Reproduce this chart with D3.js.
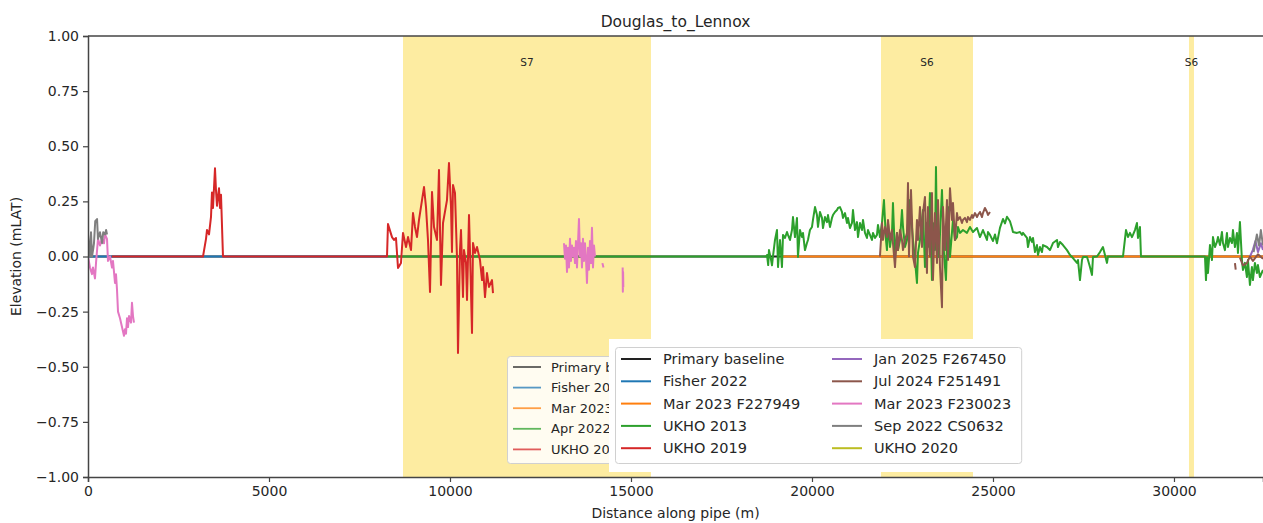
<!DOCTYPE html>
<html><head><meta charset="utf-8">
<script src="https://cdn.jsdelivr.net/npm/d3@7"></script>
<style>
body{margin:0;background:#fff;}
text{font-family:"DejaVu Sans",sans-serif;fill:#262626;}
</style></head>
<body>
<svg id="chart" width="1263" height="523"></svg>
<script>
// ---------------- data ----------------
const title = "Douglas_to_Lennox";
const xLabel = "Distance along pipe (m)";
const yLabel = "Elevation (mLAT)";
const xTicks = [0, 5000, 10000, 15000, 20000, 25000, 30000];
const yTicks = [1.00, 0.75, 0.50, 0.25, 0.00, -0.25, -0.50, -0.75, -1.00];
const xDomain = [0, 32459];
const yDomain = [-1, 1];

const sectionNames = ["S7", "S6", "S6"];
const sectionStarts = [8702, 21906, 30414];
const sectionEnds = [15552, 24448, 30552];

const seriesNames = ["Primary baseline", "Fisher 2022", "Mar 2023 F227949", "UKHO 2013", "UKHO 2019",
  "Jan 2025 F267450", "Jul 2024 F251491", "Mar 2023 F230023", "Sep 2022 CS0632", "UKHO 2020"];
const seriesColors = ["#222222", "#1f77b4", "#ff7f0e", "#2ca02c", "#d62728",
  "#9467bd", "#8c564b", "#e377c2", "#7f7f7f", "#bcbd22"];
const oldLegendNames = ["Primary baseline", "Fisher 2022", "Mar 2023", "Apr 2022", "UKHO 2019"];
const oldLegendColors = ["#222222", "#1f77b4", "#ff7f0e", "#2ca02c", "#d62728"];

const primaryBaseline = [[0, 0], [32459, 0]];
const fisher2022 = [[0, 0], [8280, 0]];
const mar2023F227949 = [[19200, 0], [32459, 0]];
const ukho2013 = [[8280,0],[18730,0],
[18757,0.007],[18790,-0.039],[18812,0.029],[18870,-0.016],[18895,-0.04],[18922,0.0],[18978,0.075],[19033,0.12],[19061,-0.048],[19116,0.075],[19171,-0.048],[19199,0.098],[19254,0.084],[19309,0.111],[19337,0.098],[19392,0.075],[19447,0.12],[19475,0.179],[19530,0.088],[19585,0.175],[19613,-0.002],[19668,0.12],[19723,0.088],[19751,0.107],[19806,0.029],[19861,0.061],[19889,0.075],[19944,0.12],[20000,0.134],[20027,0.166],[20083,0.224],[20138,0.188],[20166,0.134],[20221,0.202],[20276,0.175],[20304,0.129],[20359,0.179],[20414,0.156],[20442,0.188],[20497,0.134],[20552,0.175],[20580,0.188],[20635,0.202],[20690,0.211],[20718,0.22],[20773,0.224],[20828,0.202],[20856,0.175],[20911,0.197],[20967,0.152],[20994,0.175],[21049,0.129],[21105,0.152],[21132,0.211],[21188,0.12],[21243,0.156],[21271,0.088],[21326,0.152],[21381,0.12],[21409,0.166],[21464,0.107],[21519,0.084],[21547,0.12],[21602,0.098],[21657,0.075],[21685,0.107],[21740,0.084],[21795,0.098],[21823,0.143],[21878,0.088],[21933,0.152],
[21988,0.256],[22044,0.075],[22071,0.029],[22099,0.152],[22154,0.043],[22210,0.107],[22237,0.243],[22293,0.0],[22348,0.107],[22375,0.029],[22431,0.075],[22486,0.211],[22514,0.134],[22569,0.043],[22624,0.075],[22652,0.152],[22707,0.256],[22762,0.134],[22790,0.075],[22845,-0.016],[22900,-0.12],[22928,0.016],[22983,0.075],[23066,0.211],[23121,-0.048],[23176,0.152],[23204,0.043],[23259,0.288],[23314,-0.107],[23342,0.152],[23397,0.029],[23425,0.406],[23453,0.075],[23508,-0.002],[23591,0.302],[23646,0.016],[23701,-0.107],[23757,0.224],[23812,-0.002],[23895,0.166],[23950,0.075],[24005,0.088],[24033,0.134],[24088,0.107],[24171,0.12],[24281,0.107],[24364,0.134],[24447,0.111],
[24558,0.129],[24640,0.088],[24723,0.12],[24834,0.075],[24862,0.111],[24917,0.098],[25000,0.07],[25055,0.1],[25110,0.06],[25193,0.13],[25276,0.17],[25331,0.15],[25386,0.18],[25469,0.16],[25525,0.129],[25552,0.111],[25663,0.107],[25746,0.111],[25801,0.098],[25829,0.107],[25939,0.084],[25967,0.043],[26022,0.088],[26077,0.066],[26105,0.084],[26160,0.02],[26215,0.052],[26243,0.007],[26298,0.043],[26353,0.02],[26381,0.052],[26491,0.043],[26574,0.029],[26657,0.061],[26768,0.075],[26795,0.043],[26851,0.066],[26933,0.052],[27044,0.029],[27127,0.007],[27210,-0.007],[27320,-0.029],[27348,-0.016],[27403,-0.107],[27458,-0.016],[27486,-0.002],[27597,-0.002],[27624,-0.016],[27679,-0.048],[27735,-0.084],[27762,-0.002],[27873,0.0],[27956,0.02],[28038,0.043],[28094,0.007],[28149,-0.029],[28176,0.0],[28591,0.0],[28674,0.12],[28729,0.088],[28784,0.107],[28839,0.088],[28867,0.098],[28922,0.12],[28977,0.152],[29005,0.084],[29060,0.134],[29088,0.0],[30856,0.0],[30884,-0.107],[30911,-0.002],[30939,-0.075],[30994,0.052],[31049,-0.016],[31077,0.088],[31132,0.043],[31187,0.066],[31215,0.088],[31270,0.052],[31325,0.111],[31353,0.061],[31408,0.029],[31463,0.107],[31491,0.043],[31546,0.084],[31601,0.061],[31629,0.12],[31684,0.043],[31739,0.107],[31767,0.016],[31822,0.156],[31877,-0.016],[31905,-0.061],[31960,-0.029],[32015,-0.093],[32043,-0.016],[32098,-0.129],[32153,-0.048],[32181,-0.107],[32236,-0.029],[32291,-0.075],[32319,-0.039],[32374,-0.093],[32459,-0.061]];
const ukho2019 = [[660,0],[3177,0],[3260,0.08],[3287,0.12],[3343,0.1],[3398,0.18],[3425,0.29],[3453,0.22],[3508,0.40],[3536,0.3],[3563,0.23],[3619,0.31],[3646,0.22],[3674,0.28],[3729,0],[8260,0],
[8287,0.147],[8398,0.088],[8453,0.075],[8508,0.084],[8536,0.016],[8564,-0.052],[8646,-0.029],[8702,0.107],[8785,0.043],[8840,0.088],[8923,0.029],[8978,0.197],[9033,0.134],[9088,0.088],[9144,0.166],[9227,0.256],[9282,0.315],[9337,0.224],[9392,0.075],[9448,-0.161],[9503,0.293],[9558,0.134],[9641,0.075],[9696,0.392],[9751,-0.129],[9807,0.152],[9917,0.256],[9972,0.424],[10028,0.224],[10055,0.02],[10083,0.324],[10138,0.288],[10193,-0.002],[10221,-0.438],[10276,0.029],[10304,0.12],[10359,-0.184],[10387,0.029],[10442,-0.029],[10470,-0.197],[10525,0.188],[10552,0.029],[10608,-0.347],[10635,0.061],[10691,0.016],[10746,0.043],[10829,-0.016],[10884,-0.107],[10912,-0.048],[10967,-0.184],[11022,-0.075],[11077,-0.138],[11160,-0.107],[11188,-0.166]];
const jan2025F267450 = [[32100,0.0],[32180,0.03],[32250,0.07],[32320,0.02],[32400,0.06],[32459,0.03]];
const jul2024F251491 = [[21878,0],[21933,0.152],[21961,0.075],[22016,0.134],[22071,0.088],[22099,0.166],[22154,0.075],[22210,0.12],[22237,0.061],[22293,-0.048],[22348,0.107],[22375,0.029],[22431,0.12],[22486,0.075],[22514,0.029],[22569,0.075],[22624,0.107],[22652,0.333],[22680,0.0],[22735,0.302],[22762,0.166],[22790,0.0],[22845,-0.048],[22900,0.166],[22928,0.075],[22983,0.224],[23038,0.043],[23066,0.197],[23121,0.27],[23176,-0.075],[23204,0.224],[23259,0.0],[23314,0.288],[23342,-0.107],[23397,0.197],[23453,-0.029],[23480,0.256],[23536,-0.048],[23591,-0.23],[23619,0.224],[23674,0.029],[23729,0.256],[23757,-0.016],[23812,0.31],[23867,0.166],[23895,0.243],[23950,0.075],[24005,0.197],[24033,0.166],[24088,0.179],[24143,0.152],[24171,0.166],[24226,0.175],[24281,0.156],[24309,0.179],[24364,0.166],[24419,0.188],[24447,0.175],[24502,0.197],[24558,0.179],[24585,0.188],[24640,0.202],[24696,0.179],[24723,0.197],[24778,0.22],[24834,0.202],[24862,0.188],[24917,0.202],
null,[31684,-0.03],[31705,-0.06],null,[31822,-0.005],[31905,-0.04],[32015,-0.03],[32098,0.0],[32181,-0.02],[32319,0.01],[32459,-0.01]];
const mar2023F230023 = [[0,0],[55,-0.05],[110,-0.08],[138,-0.05],[193,-0.1],[221,-0.03],[276,0.08],[331,0.05],[387,0.08],[442,0.06],[470,0.1],[525,0.08],[552,-0.02],[608,0],[663,-0.05],[690,-0.02],[746,-0.12],[773,-0.08],[801,-0.15],[829,-0.25],[884,-0.28],[939,-0.32],[994,-0.36],[1022,-0.33],[1050,-0.35],[1077,-0.28],[1105,-0.32],[1133,-0.27],[1188,-0.3],[1215,-0.21],[1243,-0.27],[1270,-0.3],
null,[13149,0.06],[13177,-0.01],[13204,0.05],[13232,-0.07],[13260,0.04],[13287,-0.05],[13315,0.08],[13342,-0.02],[13370,0.05],[13398,0.0],[13425,0.04],[13453,-0.03],[13480,0.07],[13508,-0.05],[13536,0.06],[13563,0.17],[13591,0.0],[13619,0.06],[13646,-0.05],[13674,0.08],[13701,-0.02],[13729,0.06],[13757,-0.01],[13784,-0.12],[13812,0.04],[13839,-0.06],[13867,0.07],[13895,-0.03],[13922,0.13],[13950,-0.05],[13978,0.05],[14005,0.0],
null,[14210,-0.03],[14240,-0.05],null,[14770,-0.05],[14775,-0.16],[14782,-0.07],[14788,-0.14]];
const sep2022CS0632 = [[0,0.10],[28,0.05],[55,0.0],[83,0.11],[110,0.0],[140,0.03],[165,0.06],[200,0.16],[250,0.17],[275,0.08],[330,0.11],[390,0.06],[420,0.11],[470,0.10],[500,0.12],[525,0.10],
null,[32200,0.02],[32290,0.1],[32350,0.05],[32400,0.12],[32459,0.05]];
const ukho2020 = [];

const seriesData = [primaryBaseline, fisher2022, mar2023F227949, ukho2013, ukho2019,
  jan2025F267450, jul2024F251491, mar2023F230023, sep2022CS0632, ukho2020];

// ---------------- chart ----------------
const svg = d3.select("#chart");
const margin = {left: 88, top: 36, right: 0, bottom: 46};
const W = 1263, H = 523;
const x = d3.scaleLinear().domain(xDomain).range([margin.left, W - margin.right]);
const y = d3.scaleLinear().domain(yDomain).range([H - margin.bottom, margin.top]);

svg.append("defs").append("clipPath").attr("id", "plotclip")
  .append("rect").attr("x", x(xDomain[0])).attr("y", y(1)).attr("width", x(xDomain[1]) - x(xDomain[0])).attr("height", y(-1) - y(1));

// section spans
const plot = svg.append("g").attr("clip-path", "url(#plotclip)");
sectionNames.forEach((n, i) => {
  plot.append("rect").attr("x", x(sectionStarts[i])).attr("y", y(1))
    .attr("width", x(sectionEnds[i]) - x(sectionStarts[i])).attr("height", y(-1) - y(1))
    .attr("fill", "#fdeca1");
});

// lines
const line = d3.line().defined(d => d !== null).x(d => x(d[0])).y(d => y(d[1]));
seriesData.forEach((data, i) => {
  if (!data.length) return;
  plot.append("path").datum(data).attr("d", line).attr("fill", "none")
    .attr("stroke", seriesColors[i]).attr("stroke-width", 2).attr("stroke-linejoin", "round");
});

// section labels
sectionNames.forEach((n, i) => {
  svg.append("text").attr("x", x((sectionStarts[i] + sectionEnds[i]) / 2)).attr("y", 66)
    .attr("text-anchor", "middle").attr("font-size", 10.5).text(n);
});

// axes
const xAxis = d3.axisBottom(x).tickValues(xTicks).tickFormat(d3.format("d")).tickSize(5).tickPadding(4);
const yAxis = d3.axisLeft(y).tickValues(yTicks).tickFormat(d => d3.format(".2f")(d).replace("-", "\u2212")).tickSize(5).tickPadding(4);
const gx = svg.append("g").attr("transform", `translate(0,${y(-1)})`).call(xAxis);
const gy = svg.append("g").attr("transform", `translate(${x(0)},0)`).call(yAxis);
[gx, gy].forEach(g => {
  g.selectAll("text").attr("font-size", 14).attr("font-family", "DejaVu Sans").attr("fill", "#262626");
  g.selectAll("line").attr("stroke", "#444").attr("stroke-width", 1.2);
  g.select(".domain").attr("stroke", "#444").attr("stroke-width", 1.5);
});
// top spine
svg.append("line").attr("x1", x(0)).attr("x2", W).attr("y1", y(1)).attr("y2", y(1))
  .attr("stroke", "#444").attr("stroke-width", 1.5);

// titles
svg.append("text").attr("x", (margin.left + W) / 2).attr("y", 27).attr("text-anchor", "middle")
  .attr("font-size", 15.5).text(title);
svg.append("text").attr("x", (margin.left + W) / 2).attr("y", 518).attr("text-anchor", "middle")
  .attr("font-size", 14).text(xLabel);
svg.append("text").attr("transform", `translate(21,${y(0)}) rotate(-90)`).attr("text-anchor", "middle")
  .attr("font-size", 14).text(yLabel);

// legend 1 (partly hidden)
svg.append("defs").append("clipPath").attr("id", "leg1clip")
  .append("rect").attr("x", 500).attr("y", 340).attr("width", 109).attr("height", 140);
const leg1 = svg.append("g").attr("clip-path", "url(#leg1clip)");
leg1.append("rect").attr("x", 507.5).attr("y", 356.5).attr("width", 180).attr("height", 107).attr("rx", 3)
  .attr("fill", "#fff").attr("fill-opacity", 0.85).attr("stroke", "#d0d0d0");
oldLegendNames.forEach((n, i) => {
  const yy = 367 + i * 20.6;
  leg1.append("line").attr("x1", 513).attr("x2", 541).attr("y1", yy).attr("y2", yy)
    .attr("stroke", oldLegendColors[i]).attr("stroke-width", 1.8).attr("stroke-opacity", 0.75);
  leg1.append("text").attr("x", 551).attr("y", yy + 4.5).attr("font-size", 13).text(n);
});

// legend 2 (overlay)
const leg2 = svg.append("g");
const back = leg2.append("rect").attr("fill", "#fff");
const frame = leg2.append("rect").attr("rx", 3).attr("fill", "#fff").attr("stroke", "#d0d0d0");
let maxRight = 0;
seriesNames.forEach((n, i) => {
  const col = Math.floor(i / 5), row = i % 5;
  const yy = 359 + row * 22.3;
  const hx = col === 0 ? 621 : 832;
  leg2.append("line").attr("x1", hx).attr("x2", hx + 30).attr("y1", yy).attr("y2", yy)
    .attr("stroke", seriesColors[i]).attr("stroke-width", 2);
  const t = leg2.append("text").attr("x", hx + 42).attr("y", yy + 5).attr("font-size", 14.5).text(n);
  maxRight = Math.max(maxRight, hx + 42 + t.node().getComputedTextLength());
});
frame.attr("x", 615.5).attr("y", 347.5).attr("width", maxRight + 10 - 615).attr("height", 116);
back.attr("x", 609).attr("y", 339).attr("width", maxRight + 18 - 609).attr("height", 133);
</script>
</body></html>
